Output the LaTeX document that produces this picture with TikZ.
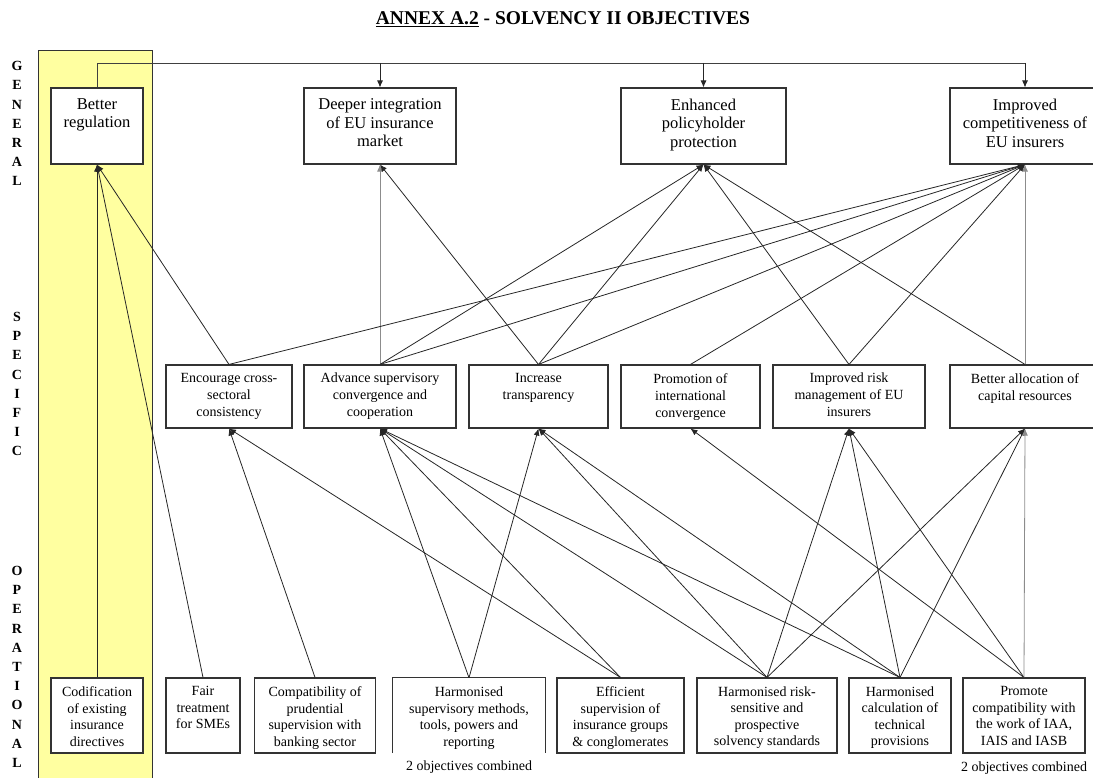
\documentclass[tikz,border=0pt]{standalone}
\usepackage{fontspec}
\setmainfont{Liberation Serif}
\usetikzlibrary{arrows.meta}
\definecolor{colyellow}{RGB}{255,255,160}
\begin{document}
\begin{tikzpicture}[x=1pt,y=-1pt,
  boxline/.style={draw=black!80, line width=1.1pt},
  box/.style={boxline, fill=white, inner sep=0pt},
  ttop/.style={font=\fontsize{16.5}{18.5}\selectfont, align=center, inner sep=0pt, anchor=north},
  tmid/.style={font=\fontsize{14}{17}\selectfont, align=center, inner sep=0pt, anchor=north},
  tbot/.style={font=\fontsize{14}{16.5}\selectfont, align=center, inner sep=0pt, anchor=north},
  note/.style={font=\fontsize{14}{16.5}\selectfont, inner sep=0pt},
  side/.style={font=\bfseries\fontsize{14}{19.2}\selectfont, align=center, inner sep=0pt, anchor=north},
  conn/.style={line width=0.8pt, draw=black!85, -{Latex[length=7pt,width=6pt]}},
  gconn/.style={conn, draw=black!45}]
\useasboundingbox (0,0) rectangle (1093,778);
% title
\node[font=\bfseries\fontsize{19.5}{22}\selectfont, anchor=base, inner sep=0pt] (title) at (563,25) {\underline{ANNEX A.2} - SOLVENCY II OBJECTIVES};
% side labels
\node[side] (lgen) at (17,61.3) {G\\E\\N\\E\\R\\A\\L};
\node[side] (lspec) at (17,312) {S\\P\\E\\C\\I\\F\\I\\C};
\node[side] (lop) at (17,566) {O\\P\\E\\R\\A\\T\\I\\O\\N\\A\\L};
% yellow column
\fill[colyellow] (38,51) rectangle (152,790);
\draw[black!80, line width=1pt] (38,790) -- (38,51) -- (152,51) -- (152,790);
% general boxes
\node[box, minimum width=92pt, minimum height=76pt] (breg) at (97,126) {};
\node[box, minimum width=152pt, minimum height=76pt] (deep) at (380,126) {};
\node[box, minimum width=165pt, minimum height=76pt] (enh) at (703.5,126) {};
\node[box, minimum width=150pt, minimum height=76pt] (comp) at (1025,126) {};
\node[ttop] (breg-t) at ([yshift=-11pt]breg.north) {Better\\regulation};
\node[ttop] (deep-t) at ([yshift=-11pt]deep.north) {Deeper integration\\of EU insurance\\market};
\node[ttop] (enh-t) at ([yshift=-11pt]enh.north) {Enhanced\\policyholder\\protection};
\node[ttop] (comp-t) at ([yshift=-11pt]comp.north) {Improved\\competitiveness of\\EU insurers};
% specific boxes
\node[box, minimum width=126pt, minimum height=63pt] (enc) at (229,396.5) {};
\node[box, minimum width=152pt, minimum height=63pt] (adv) at (380,396.5) {};
\node[box, minimum width=139pt, minimum height=63pt] (inc) at (538.5,396.5) {};
\node[box, minimum width=139pt, minimum height=63pt] (prom) at (690.5,396.5) {};
\node[box, minimum width=152pt, minimum height=63pt] (risk) at (849,396.5) {};
\node[box, minimum width=150pt, minimum height=63pt] (alloc) at (1025,396.5) {};
\node[tmid] (enc-t) at ([yshift=-8.5pt]enc.north) {Encourage cross-\\sectoral\\consistency};
\node[tmid] (adv-t) at ([yshift=-8.5pt]adv.north) {Advance supervisory\\convergence and\\cooperation};
\node[tmid] (inc-t) at ([yshift=-8.5pt]inc.north) {Increase\\transparency};
\node[tmid] (prom-t) at ([yshift=-8.5pt]prom.north) {Promotion of\\international\\convergence};
\node[tmid] (risk-t) at ([yshift=-8.5pt]risk.north) {Improved risk\\management of EU\\insurers};
\node[tmid] (alloc-t) at ([yshift=-8.5pt]alloc.north) {Better allocation of\\capital resources};
% operational boxes
\node[box, minimum width=92pt, minimum height=75pt] (cod) at (97,715.5) {};
\node[box, minimum width=74pt, minimum height=75pt] (fair) at (203,715.5) {};
\node[box, minimum width=121pt, minimum height=75pt] (compat) at (315,715.5) {};
\node[inner sep=0pt, minimum width=152pt, minimum height=75pt] (hsup) at (469,715.5) {};
\draw[boxline] (hsup.south west) -- (hsup.north west) -- (hsup.north east) -- (hsup.south east);
\node[box, minimum width=127pt, minimum height=75pt] (eff) at (620.5,715.5) {};
\node[box, minimum width=140pt, minimum height=75pt] (hrisk) at (767,715.5) {};
\node[box, minimum width=102pt, minimum height=75pt] (hcalc) at (900,715.5) {};
\node[box, minimum width=122pt, minimum height=75pt] (promo) at (1024,715.5) {};
\node[tbot] (cod-t) at ([yshift=-9pt]cod.north) {Codification\\of existing\\insurance\\directives};
\node[tbot] (fair-t) at ([yshift=-9pt]fair.north) {Fair\\treatment\\for SMEs};
\node[tbot] (compat-t) at ([yshift=-9pt]compat.north) {Compatibility of\\prudential\\supervision with\\banking sector};
\node[tbot] (hsup-t) at ([yshift=-9pt]hsup.north) {Harmonised\\supervisory methods,\\tools, powers and\\reporting};
\node[tbot] (eff-t) at ([yshift=-9pt]eff.north) {Efficient\\supervision of\\insurance groups\\\& conglomerates};
\node[tbot] (hrisk-t) at ([yshift=-9pt]hrisk.north) {Harmonised risk-\\sensitive and\\prospective\\solvency standards};
\node[tbot] (hcalc-t) at ([yshift=-9pt]hcalc.north) {Harmonised\\calculation of\\technical\\provisions};
\node[tbot] (promo-t) at ([yshift=-9pt]promo.north) {Promote\\compatibility with\\the work of IAA,\\IAIS and IASB};
\node[note] (note1) at (469,767) {2 objectives combined};
\node[note] (note2) at (1024,768) {2 objectives combined};
% top distribution line
\coordinate (tl) at (97,63);
\coordinate (tr) at (1025,63);
\draw[line width=0.9pt, draw=black!75] (breg.north) -- (tl) -- (tr);
\draw[conn] (deep.north |- tl) -- (deep.north);
\draw[conn] (enh.north |- tl) -- (enh.north);
\draw[conn] (comp.north |- tl) -- (comp.north);
% specific -> general
\draw[conn] (cod.north) -- (breg.south);
\draw[conn] (fair.north) -- (breg.south);
\draw[conn] (enc.north) -- (breg.south);
\draw[gconn] (adv.north) -- (deep.south);
\draw[conn] (inc.north) -- (deep.south);
\foreach \s in {adv,inc,risk,alloc} \draw[conn] (\s.north) -- (enh.south);
\foreach \s in {enc,adv,inc,prom,risk} \draw[conn] (\s.north) -- (comp.south);
\draw[gconn] (alloc.north) -- (comp.south);
% operational -> specific
\foreach \s in {compat,eff} \draw[conn] (\s.north) -- (enc.south);
\foreach \s in {hsup,eff,hrisk,hcalc} \draw[conn] (\s.north) -- (adv.south);
\foreach \s in {hsup,hrisk,hcalc} \draw[conn] (\s.north) -- (inc.south);
\draw[conn] (promo.north) -- (prom.south);
\foreach \s in {hrisk,hcalc,promo} \draw[conn] (\s.north) -- (risk.south);
\foreach \s in {hrisk,hcalc} \draw[conn] (\s.north) -- (alloc.south);
\draw[gconn] (promo.north) -- (alloc.south);
\end{tikzpicture}
\end{document}
